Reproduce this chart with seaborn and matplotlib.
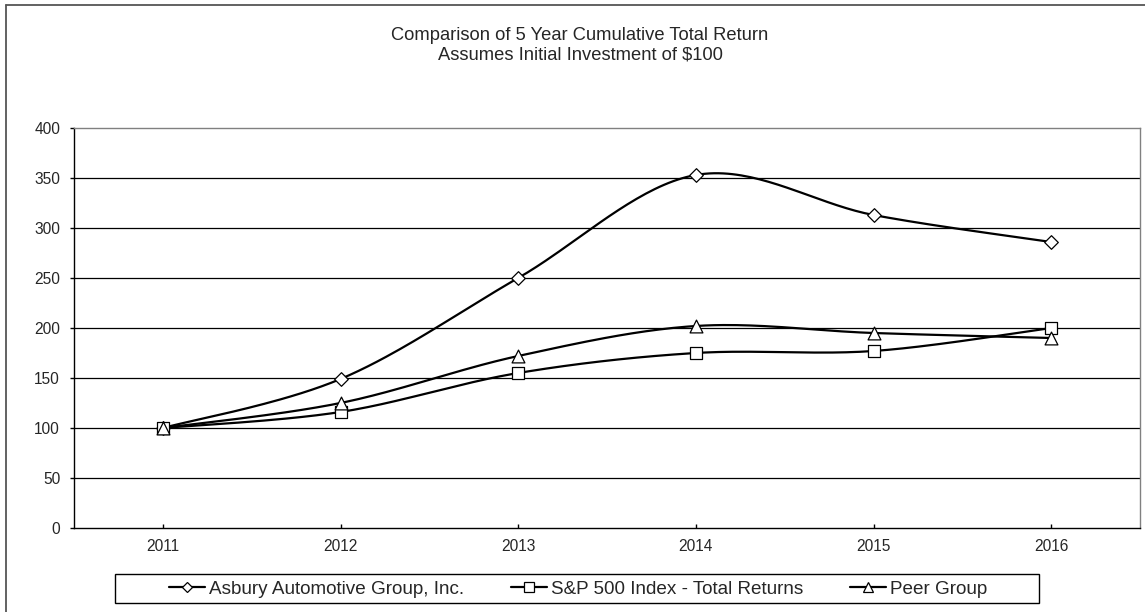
import numpy as np
import pandas as pd
import matplotlib
matplotlib.use("Agg")
import matplotlib.pyplot as plt
from matplotlib.lines import Line2D
from matplotlib.patches import Rectangle
import seaborn as sns

# ---- data ----
years = ["2011", "2012", "2013", "2014", "2015", "2016"]
asbury = [100, 149, 250, 353, 313, 286]
sp500 = [100, 116, 155, 175, 177, 200]
peer = [100, 125, 172, 202, 195, 190]
series_names = ["Asbury Automotive Group, Inc.", "S&P 500 Index - Total Returns", "Peer Group"]
yticks = [0, 50, 100, 150, 200, 250, 300, 350, 400]

sns.set_style("white")
plt.rcParams["font.family"] = ["Liberation Sans", "DejaVu Sans"]

W, H = 1145, 612
fig = plt.figure(figsize=(W / 100, H / 100), dpi=100)
ax = fig.add_axes([74 / W, 1 - 528 / H, (1140 - 74) / W, (528 - 128) / H])


def smooth(yv, steps=40):
    """Excel-like smoothed line (Catmull-Rom Bezier) through the points."""
    n = len(yv)
    xv = np.arange(n, dtype=float)
    yv = np.asarray(yv, dtype=float)
    xs, ys = [], []
    for i in range(n - 1):
        im1 = max(i - 1, 0)
        ip2 = min(i + 2, n - 1)
        p0 = np.array([xv[i], yv[i]])
        p3 = np.array([xv[i + 1], yv[i + 1]])
        p1 = p0 + (np.array([xv[i + 1], yv[i + 1]]) - np.array([xv[im1], yv[im1]])) / 6
        p2 = p3 - (np.array([xv[ip2], yv[ip2]]) - np.array([xv[i], yv[i]])) / 6
        t = np.linspace(0, 1, steps)[:, None]
        pts = (1 - t) ** 3 * p0 + 3 * (1 - t) ** 2 * t * p1 + 3 * (1 - t) * t ** 2 * p2 + t ** 3 * p3
        if i > 0:
            pts = pts[1:]
        xs.extend(pts[:, 0])
        ys.extend(pts[:, 1])
    return np.array(xs), np.array(ys)


pos = np.arange(len(years))
markers = ["D", "s", "^"]
msizes = [48, 70, 85]
for vals, mk, ms, name in zip([asbury, sp500, peer], markers, msizes, series_names):
    sx, sy = smooth(vals)
    df = pd.DataFrame({"x": sx, "y": sy})
    sns.lineplot(data=df, x="x", y="y", ax=ax, color="black", linewidth=1.6,
                 sort=False, estimator=None, zorder=3)
    sns.scatterplot(x=pos, y=vals, ax=ax, marker=mk, s=ms, color="white",
                    edgecolor="black", linewidth=0.9, zorder=4)

ax.set_xlim(-0.5, len(years) - 0.5)
ax.set_ylim(0, 400)
ax.set_yticks(yticks)
ax.set_yticklabels([str(v) for v in yticks])
ax.set_xticks(pos)
ax.set_xticklabels(years)
ax.set_xlabel("")
ax.set_ylabel("")

for v in yticks[1:-1]:
    ax.axhline(v, color="black", linewidth=0.9, zorder=1)

for s in ["top", "right"]:
    ax.spines[s].set_color("#808080")
    ax.spines[s].set_linewidth(1.0)
for s in ["left", "bottom"]:
    ax.spines[s].set_color("black")
    ax.spines[s].set_linewidth(1.0)
    ax.spines[s].set_visible(True)

ax.tick_params(axis="y", direction="out", length=3, width=1, color="black",
               labelsize=11.2, pad=7, left=True)
ax.tick_params(axis="x", direction="in", length=3, width=1, color="black",
               labelsize=11.2, pad=8, bottom=True)

# title
fig.text(580 / W, 1 - 39.5 / H, "Comparison of 5 Year Cumulative Total Return",
         ha="center", va="baseline", fontsize=13.2)
fig.text(580 / W, 1 - 59.5 / H, "Assumes Initial Investment of $100",
         ha="center", va="baseline", fontsize=13.2)

# legend box
fig.add_artist(Rectangle((115 / W, 1 - 603 / H), (1039 - 115) / W, (603 - 574) / H,
                         transform=fig.transFigure, fill=False, ec="black", lw=1.0))
handles = [Line2D([], [], color="black", lw=1.6, marker=m, markersize=sz,
                  markerfacecolor="white", markeredgecolor="black", markeredgewidth=0.9)
           for m, sz in zip(markers, [5.0, 6.5, 7.5])]
fig.legend(handles, series_names, loc="center", bbox_to_anchor=(578 / W, 1 - 589 / H),
           ncol=3, frameon=False, fontsize=13.6, handlelength=1.9, handletextpad=0.2,
           columnspacing=2.5, borderpad=0, borderaxespad=0)

# outer border (left and top visible)
fig.add_artist(Line2D([6 / W, 6 / W], [0, 1 - 4.7 / H], transform=fig.transFigure,
                      color="#555555", lw=1.3))
fig.add_artist(Line2D([6 / W, 1], [1 - 4.7 / H, 1 - 4.7 / H], transform=fig.transFigure,
                      color="#555555", lw=1.3))

fig.savefig("out.png", dpi=100, facecolor="white")
